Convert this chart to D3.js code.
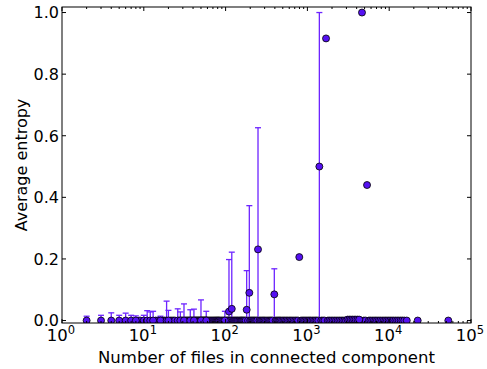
<!DOCTYPE html>
<html>
<head>
<meta charset="utf-8">
<script src="https://cdn.jsdelivr.net/npm/d3@7/dist/d3.min.js"></script>
<style>
  html, body { margin: 0; padding: 0; background: #ffffff; }
  svg { display: block; }
  text { font-family: "DejaVu Sans", sans-serif; fill: #000; }
</style>
</head>
<body>
<svg id="chart" width="487" height="369"></svg>
<script>
// ---- data ----
// component sizes whose average entropy is 0 (no visible error bar)
const zeroSizes = [
  9, 14, 15, 17, 18, 21, 22, 23, 24, 27, 29, 30, 32, 33, 34, 35, 36, 38, 39, 40,
  42, 43, 44, 45, 46, 47, 48, 49, 51, 52, 53, 54, 55, 56, 57, 59, 60, 62, 64, 66,
  68, 70, 72, 74, 76, 78, 80, 82, 84, 87, 90, 93, 96,
  102, 105, 108, 113, 116, 122, 126, 130, 134, 138, 142, 147, 152, 156, 160, 165,
  170, 176, 188, 200, 207, 214, 221, 228, 236, 244, 260, 270, 280, 290, 300, 312,
  325, 338, 350, 362, 375, 410, 425, 440, 455, 470, 490, 510, 530, 552, 575, 600,
  625, 650, 680, 710, 740, 770, 835, 870, 905, 940, 980,
  1020, 1060, 1100, 1150, 1200, 1250, 1300, 1360, 1480, 1550, 1620, 1780, 1860,
  1950, 2040, 2140, 2240, 2350, 2460, 2580, 2700, 2830, 2960, 4450, 4900, 5150,
  5650, 5900, 6200, 6500, 6800, 7100, 7450, 7800, 8200, 8600, 9000, 9400, 9850,
  10300, 10800, 11300, 11900, 12500, 13100, 13800, 14500, 15300, 16400, 22300, 52800
];
// component sizes with a non-zero mean and/or a visible standard deviation
const spreadSizes = [
  2, 3, 4, 5, 6, 7, 8, 10, 11, 12, 13, 16, 19, 20, 26, 28, 31, 37, 41, 50, 58, 98,
  110, 119, 181, 195, 249, 394, 796, 1400, 1690, 4650, 5360,
  3100, 3250, 3400, 3560, 3730, 3900, 4100, 4300
];
const spreadMean = [
  0, 0, 0, 0, 0, 0, 0, 0, 0, 0, 0, 0, 0, 0, 0, 0, 0, 0, 0, 0, 0, 0,
  0.029, 0.038, 0.035, 0.090, 0.231, 0.085, 0.206, 0.500, 0.916, 1.000, 0.440,
  0.003, 0.003, 0.003, 0.003, 0.003, 0.003, 0.003, 0.003
];
const spreadErr = [
  0.014, 0.017, 0.025, 0.017, 0.024, 0.017, 0.015, 0.017, 0.032, 0.028, 0.030,
  0.014, 0.063, 0.033, 0.038, 0.028, 0.054, 0.035, 0.037, 0.067, 0.030, 0.030,
  0.169, 0.184, 0.127, 0.283, 0.395, 0.083, 0, 0.500, 0, 0, 0,
  0, 0, 0, 0, 0, 0, 0, 0
];
const xTickExps = [0, 1, 2, 3, 4, 5];
const yTicks = [0.0, 0.2, 0.4, 0.6, 0.8, 1.0];
const xLabel = "Number of files in connected component";
const yLabel = "Average entropy";

// ---- layout ----
const L = 62, R = 471, T = 7, B = 323;
const dotFill = "#5511f2";
const barColor = "#6d24ff";

const svg = d3.select("#chart");
const x = d3.scaleLog().domain([1, 1e5]).range([L, R]);
const y = d3.scaleLinear().domain([-0.008, 1.018]).range([B, T]);

svg.append("defs").append("clipPath").attr("id", "plotclip")
  .append("rect").attr("x", L).attr("y", T).attr("width", R - L).attr("height", B - T);

const points = [];
zeroSizes.forEach(s => points.push({ s: s, m: 0, e: 0 }));
spreadSizes.forEach((s, i) => points.push({ s: s, m: spreadMean[i], e: spreadErr[i] }));

const plot = svg.append("g").attr("clip-path", "url(#plotclip)");

// error bars
const withErr = points.filter(d => d.e > 0);
plot.selectAll("line.eb").data(withErr).enter().append("line")
  .attr("x1", d => x(d.s)).attr("x2", d => x(d.s))
  .attr("y1", d => y(d.m - d.e)).attr("y2", d => y(d.m + d.e))
  .attr("stroke", barColor).attr("stroke-width", 1.3);
[1, -1].forEach(sign => {
  plot.selectAll("line.cap" + sign).data(withErr).enter().append("line")
    .attr("x1", d => x(d.s) - 3).attr("x2", d => x(d.s) + 3)
    .attr("y1", d => y(d.m + sign * d.e)).attr("y2", d => y(d.m + sign * d.e))
    .attr("stroke", barColor).attr("stroke-width", 1.3);
});

// markers
plot.selectAll("circle").data(points).enter().append("circle")
  .attr("cx", d => x(d.s)).attr("cy", d => y(d.m)).attr("r", 3.5)
  .attr("fill", dotFill).attr("stroke", "#000").attr("stroke-width", 0.8);

// frame
svg.append("rect").attr("x", L).attr("y", T).attr("width", R - L).attr("height", B - T)
  .attr("fill", "none").attr("stroke", "#000").attr("stroke-width", 1);

// x ticks (major + minor, inward, top and bottom)
const ticksG = svg.append("g").attr("stroke", "#000").attr("stroke-width", 1);
xTickExps.forEach(e => {
  const px = x(Math.pow(10, e));
  ticksG.append("line").attr("x1", px).attr("x2", px).attr("y1", B).attr("y2", B - 4);
  ticksG.append("line").attr("x1", px).attr("x2", px).attr("y1", T).attr("y2", T + 4);
  if (e < 5) {
    for (let k = 2; k <= 9; k++) {
      const mx = x(k * Math.pow(10, e));
      ticksG.append("line").attr("x1", mx).attr("x2", mx).attr("y1", B).attr("y2", B - 2);
      ticksG.append("line").attr("x1", mx).attr("x2", mx).attr("y1", T).attr("y2", T + 2);
    }
  }
});
// y ticks
yTicks.forEach(v => {
  const py = y(v);
  ticksG.append("line").attr("x1", L).attr("x2", L + 4).attr("y1", py).attr("y2", py);
  ticksG.append("line").attr("x1", R).attr("x2", R - 4).attr("y1", py).attr("y2", py);
});

// x tick labels: 10^e
xTickExps.forEach(e => {
  const t = svg.append("text")
    .attr("x", x(Math.pow(10, e)) - 1).attr("y", 341)
    .attr("text-anchor", "middle").style("font-size", "16.5px");
  t.append("tspan").text("10");
  t.append("tspan").attr("dy", -7).style("font-size", "11.5px").text(String(e));
});
// y tick labels
yTicks.forEach(v => {
  svg.append("text").attr("x", 59).attr("y", y(v)).attr("dy", "0.36em")
    .attr("text-anchor", "end").style("font-size", "16px").text(v.toFixed(1));
});

// axis labels
svg.append("text").attr("x", (L + R) / 2).attr("y", 363)
  .attr("text-anchor", "middle").style("font-size", "16.5px").text(xLabel);
svg.append("text").attr("transform", `translate(27,${(T + B) / 2}) rotate(-90)`)
  .attr("text-anchor", "middle").style("font-size", "16px").text(yLabel);
</script>
</body>
</html>
